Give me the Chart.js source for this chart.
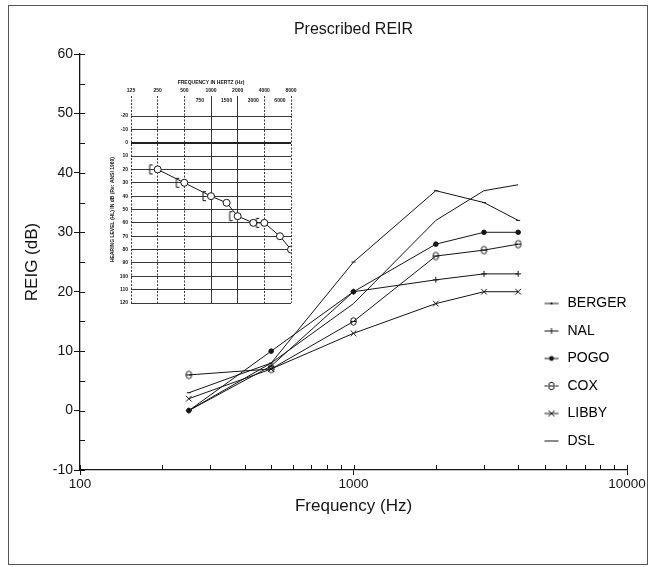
<!DOCTYPE html>
<html>
<head>
<meta charset="utf-8">
<script src="https://cdn.jsdelivr.net/npm/chart.js@4.4.1/dist/chart.umd.min.js"></script>
<style>
  body { margin: 0; background: #fff; }
  #wrap { position: relative; width: 651px; height: 567px; }
  #frame { position: absolute; left: 8px; top: 5px; width: 638px; height: 558px; border: 1px solid #555; }
  #main { position: absolute; left: 0; top: 0; }
  #inset { position: absolute; left: 95px; top: 70px; }
</style>
</head>
<body>
<div id="wrap">
  <div id="frame"></div>
  <canvas id="main" width="651" height="567"></canvas>
  <canvas id="inset" width="205" height="240"></canvas>
</div>
<script>
// main chart data (REIG in dB at each frequency)
const freqs = [250, 500, 1000, 2000, 3000, 4000];
const berger = [3, 8, 25, 37, 35, 32];
const nal = [0, 7.5, 20, 22, 23, 23];
const pogo = [0, 10, 20, 28, 30, 30];
const cox = [6, 7, 15, 26, 27, 28];
const libby = [2, 7, 13, 18, 20, 20];
const dsl = [0, 8, 18, 32, 37, 38];
const xTicks = [100, 200, 300, 400, 500, 600, 700, 800, 900,
                1000, 2000, 3000, 4000, 5000, 6000, 7000, 8000, 9000, 10000];
const xLabels = [100, 1000, 10000];

// inset audiogram
const auFreqs = [250, 500, 1000, 1500, 2000, 3000, 4000, 6000, 8000];
const auAir = [20, 30, 40, 45, 55, 60, 60, 70, 80];
const boneFreqs = [250, 500, 1000, 2000, 4000];
const auBone = [20, 30, 40, 55, 60];
const auTicks = [125, 250, 500, 750, 1000, 1500, 2000, 3000, 4000, 6000, 8000];
const auOctaves = [125, 250, 500, 1000, 2000, 4000, 8000];
const auDashed = [125, 250, 500, 4000, 8000];

const ink = '#151515';
const font = 'Liberation Sans, Arial, sans-serif';

function pts(xs, ys) {
    return xs.map((x, i) => ({x: x, y: ys[i]}));
}

function makeMark(w, h, draw) {
    const c = document.createElement('canvas');
    c.width = w;
    c.height = h;
    const g = c.getContext('2d');
    g.strokeStyle = ink;
    g.fillStyle = ink;
    g.lineWidth = 1;
    draw(g, w, h);
    return c;
}

function theta(g, cx, cy) {
    g.beginPath();
    g.ellipse(cx, cy, 2.8, 3.8, 0, 0, Math.PI * 2);
    g.stroke();
    g.beginPath();
    g.moveTo(cx - 2.8, cy);
    g.lineTo(cx + 2.8, cy);
    g.stroke();
}

const coxMark = makeMark(9, 11, g => theta(g, 4.5, 5.5));

const bracket = makeMark(22, 12, g => {
    g.beginPath();
    g.moveTo(6, 1.5);
    g.lineTo(3, 1.5);
    g.lineTo(3, 10.5);
    g.lineTo(6, 10.5);
    g.stroke();
});

// legend symbols: short line with the series marker
function legendMark(extra) {
    return makeMark(16, 10, g => {
        g.beginPath();
        g.moveTo(1, 5);
        g.lineTo(15, 5);
        g.stroke();
        if (extra) extra(g);
    });
}
const legendMarks = [
    legendMark(g => { g.fillRect(7, 4, 2, 2); }),
    legendMark(g => { g.beginPath(); g.moveTo(8, 2); g.lineTo(8, 8); g.stroke(); }),
    legendMark(g => { g.beginPath(); g.arc(8, 5, 2.4, 0, Math.PI * 2); g.fill(); }),
    legendMark(g => { g.fillStyle = '#fff'; g.fillRect(4, 0, 8, 10); theta(g, 8, 5); }),
    legendMark(g => { g.beginPath(); g.moveTo(5, 2); g.lineTo(11, 8); g.moveTo(11, 2); g.lineTo(5, 8); g.stroke(); }),
    legendMark(null)
];

// tick marks pointing into the plot
const innerTicks = {
    id: 'innerTicks',
    afterDraw(chart) {
        const {ctx, chartArea, scales} = chart;
        ctx.save();
        ctx.strokeStyle = ink;
        ctx.lineWidth = 1;
        ctx.beginPath();
        scales.x.ticks.forEach(t => {
            const px = Math.round(scales.x.getPixelForValue(t.value)) + 0.5;
            ctx.moveTo(px, chartArea.bottom);
            ctx.lineTo(px, chartArea.bottom - 5);
        });
        scales.y.ticks.forEach(t => {
            const py = Math.round(scales.y.getPixelForValue(t.value)) + 0.5;
            ctx.moveTo(chartArea.left, py);
            ctx.lineTo(chartArea.left + 5, py);
        });
        ctx.stroke();
        ctx.restore();
    }
};

// put the legend on the right, inside the plot
const legendPlace = {
    id: 'legendPlace',
    afterLayout(chart) {
        const lg = chart.legend;
        lg.left = 529;
        lg.right = 640;
        lg.top = 283;
        lg.bottom = 470;
    }
};

const series = [
    {label: 'BERGER', data: pts(freqs, berger), pointStyle: 'line', pointRadius: 2},
    {label: 'NAL', data: pts(freqs, nal), pointStyle: 'cross', pointRadius: 3},
    {label: 'POGO', data: pts(freqs, pogo), pointStyle: 'circle', pointRadius: 2.3},
    {label: 'COX', data: pts(freqs, cox), pointStyle: coxMark, pointRadius: 4},
    {label: 'LIBBY', data: pts(freqs, libby), pointStyle: 'crossRot', pointRadius: 4},
    {label: 'DSL', data: pts(freqs, dsl), pointRadius: 0}
];

new Chart(document.getElementById('main'), {
    type: 'line',
    data: {
        datasets: series.map(s => Object.assign({
            borderColor: ink,
            backgroundColor: ink,
            pointBorderColor: ink,
            pointBackgroundColor: ink,
            borderWidth: 1,
            pointBorderWidth: 1,
            tension: 0,
            fill: false
        }, s))
    },
    options: {
        responsive: false,
        animation: false,
        layout: {padding: {left: 0, right: 24, top: 0, bottom: 0}},
        plugins: {
            title: {display: false},
            tooltip: {enabled: false},
            legend: {
                position: 'chartArea',
                align: 'start',
                labels: {
                    usePointStyle: true,
                    pointStyleWidth: 18,
                    boxHeight: 14,
                    padding: 13.5,
                    color: ink,
                    font: {family: font, size: 14},
                    generateLabels: chart => chart.data.datasets.map((d, i) => ({
                        text: d.label,
                        pointStyle: legendMarks[i],
                        fillStyle: ink,
                        strokeStyle: ink,
                        lineWidth: 1,
                        hidden: false,
                        datasetIndex: i
                    }))
                }
            }
        },
        scales: {
            x: {
                type: 'logarithmic',
                position: 'bottom',
                min: 100,
                max: 10000,
                afterBuildTicks: s => { s.ticks = xTicks.map(v => ({value: v})); },
                afterFit: s => { s.height = 97; },
                border: {display: true, color: ink, width: 1.3},
                grid: {
                    display: true,
                    drawOnChartArea: false,
                    drawTicks: true,
                    tickLength: 5,
                    tickColor: c => (c.tick && xLabels.includes(c.tick.value)) ? ink : 'rgba(0,0,0,0)'
                },
                ticks: {
                    autoSkip: false,
                    maxRotation: 0,
                    padding: 1,
                    color: ink,
                    font: {family: font, size: 13.5},
                    callback: v => xLabels.includes(v) ? String(v) : ''
                },
                title: {
                    display: true,
                    text: 'Frequency (Hz)',
                    color: ink,
                    font: {family: font, size: 17},
                    padding: {top: 0, bottom: 50}
                }
            },
            top: {
                type: 'linear',
                position: 'top',
                min: 0,
                max: 1,
                afterFit: s => { s.height = 54; },
                border: {display: false},
                grid: {display: false},
                ticks: {display: false},
                title: {
                    display: true,
                    text: 'Prescribed REIR',
                    color: ink,
                    font: {family: font, size: 16},
                    padding: {top: 20, bottom: 0}
                }
            },
            y: {
                min: -10,
                max: 60,
                afterFit: s => { s.width = 80; },
                border: {display: true, color: ink, width: 1.3},
                grid: {
                    display: true,
                    drawOnChartArea: false,
                    drawTicks: true,
                    tickLength: 6,
                    tickColor: c => (c.tick && c.tick.value % 10 === 0) ? ink : 'rgba(0,0,0,0)'
                },
                ticks: {
                    stepSize: 5,
                    padding: 1,
                    color: ink,
                    font: {family: font, size: 14},
                    callback: v => v % 10 === 0 ? String(v) : ''
                },
                title: {
                    display: true,
                    text: 'REIG (dB)',
                    color: ink,
                    font: {family: font, size: 17},
                    padding: {top: 22, bottom: 0}
                }
            }
        }
    },
    plugins: [innerTicks, legendPlace]
});

// inset audiogram
const tiny = {family: font, size: 5, weight: 'bold'};
new Chart(document.getElementById('inset'), {
    type: 'line',
    data: {
        datasets: [
            {
                data: pts(auFreqs, auAir),
                borderColor: ink,
                borderWidth: 1,
                pointStyle: 'circle',
                pointRadius: 3.5,
                pointBorderWidth: 1,
                pointBorderColor: ink,
                pointBackgroundColor: '#fff',
                tension: 0
            },
            {
                data: pts(boneFreqs, auBone),
                showLine: false,
                pointStyle: bracket,
                pointRadius: 6
            }
        ]
    },
    options: {
        responsive: false,
        animation: false,
        layout: {padding: {left: 0, right: 9, top: 0, bottom: 6}},
        plugins: {legend: {display: false}, tooltip: {enabled: false}},
        scales: {
            x: {
                type: 'logarithmic',
                position: 'top',
                min: 125,
                max: 8000,
                afterBuildTicks: s => { s.ticks = auTicks.map(v => ({value: v})); },
                afterFit: s => { s.height = 46; },
                border: {display: false, dash: c => (c.tick && auDashed.includes(c.tick.value)) ? [2, 1.5] : []},
                grid: {
                    display: true,
                    drawTicks: true,
                    tickLength: 20,
                    lineWidth: 0.9,
                    tickWidth: 0.9,
                    color: c => (c.tick && auOctaves.includes(c.tick.value)) ? '#222' : 'rgba(0,0,0,0)',
                    tickColor: c => (c.tick && auOctaves.includes(c.tick.value)) ? '#222' : 'rgba(0,0,0,0)',
                    tickBorderDash: c => (c.tick && auDashed.includes(c.tick.value)) ? [2, 1.5] : []
                },
                ticks: {
                    autoSkip: false,
                    maxRotation: 0,
                    padding: -10,
                    color: ink,
                    font: Object.assign({lineHeight: 2}, tiny),
                    callback: v => auOctaves.includes(v) ? [String(v), ''] : ['', String(v)]
                },
                title: {
                    display: true,
                    text: 'FREQUENCY IN HERTZ (Hz)',
                    color: ink,
                    font: tiny,
                    padding: {top: 10, bottom: 0}
                }
            },
            y: {
                reverse: true,
                min: -20,
                max: 120,
                afterFit: s => { s.width = 36; },
                border: {display: false},
                grid: {
                    display: true,
                    drawTicks: false,
                    color: '#222',
                    lineWidth: c => (c.tick && c.tick.value === 0) ? 2 : 0.9
                },
                ticks: {
                    stepSize: 10,
                    padding: 3,
                    color: ink,
                    font: tiny
                },
                title: {
                    display: true,
                    text: 'HEARING LEVEL (HL) IN dB (Re: ANSI 1969)',
                    color: ink,
                    font: tiny,
                    padding: {top: 15, bottom: 0}
                }
            }
        }
    }
});
</script>
</body>
</html>
